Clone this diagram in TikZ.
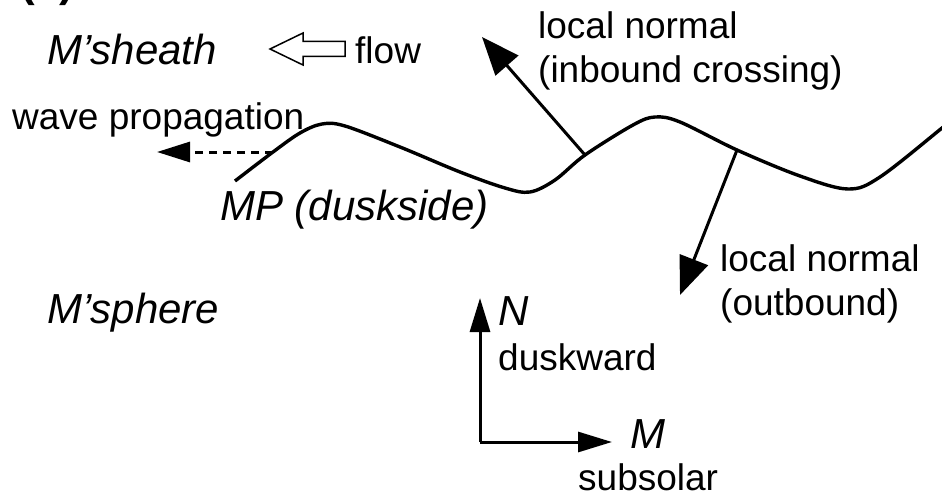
\documentclass[tikz,border=0pt]{standalone}
\usepackage{fontspec}
\setmainfont{Liberation Sans}
\usetikzlibrary{arrows.meta}
\begin{document}
\begin{tikzpicture}[x=1pt,y=-1pt,
  lbl/.style={anchor=base west, inner sep=0pt, font=\fontsize{37}{44}\selectfont},
  ilbl/.style={anchor=base west, inner sep=0pt, font=\fontsize{42}{50}\selectfont\itshape},
  normalarrow/.style={line width=3pt, -{Triangle[length=38pt,width=30pt]}},
  axisarrow/.style={line width=3pt, -{Triangle[length=34pt,width=20pt]}},
  wavearrow/.style={line width=3pt, dash pattern=on 8pt off 6pt, -{Triangle[length=33pt,width=20pt]}},
  mpline/.style={line width=3.4pt, line join=round},
  hollow/.style={line width=1.5pt, fill=white, line join=miter}
]
\useasboundingbox (0,0) rectangle (942,500);
\clip (0,0) rectangle (942,500);

% panel label (cut off at top, as in the reference)
\node[anchor=base west, inner sep=0pt, font=\fontsize{44}{50}\selectfont\bfseries] (panel) at (20,-3) {(a)};

% magnetopause curve
\draw[mpline] plot[smooth, tension=0.55] coordinates {
 (235,181) (273,152) (300,133) (322,124) (345,126) (400,147) (460,172)
 (505,188) (530,192) (555,180) (585,155) (633,125) (655,117) (680,122)
 (737,150) (800,176) (848,189) (880,177) (942,128) (965,109)};

\coordinate (wp) at (273,152);
\coordinate (wtip) at (157,152);
\coordinate (n1s) at (585,155);
\coordinate (n1e) at (482,37);
\coordinate (n2s) at (737,150);
\coordinate (n2e) at (680,295);
\coordinate (o) at (480,442);
\coordinate (ntip) at (480,298);
\coordinate (mtip) at (612,442);

% arrows
\draw[wavearrow] (wp) -- (wtip);
\draw[normalarrow] (n1s) -- (n1e);
\draw[normalarrow] (n2s) -- (n2e);
\draw[axisarrow] (o) -- (ntip);
\draw[axisarrow] (o) -- (mtip);

% hollow flow arrow
\draw[hollow] (270,49) -- (303,33) -- (303,41.5) -- (345,41.5) -- (345,56.5) -- (303,56.5) -- (303,65) -- cycle;

% labels
\node[ilbl] (msheath) at (47,65) {M’sheath};
\node[lbl] (flow) at (355,64) {flow};
\node[lbl] (wave) at (12,129) {wave propagation};
\node[lbl] (inA) at (538,39) {local normal};
\node[lbl] (inB) at (538,83) {(inbound crossing)};
\node[ilbl] (mp) at (220,220) {MP (duskside)};
\node[lbl] (outA) at (720,271) {local normal};
\node[lbl] (outB) at (720,315) {(outbound)};
\node[ilbl] (msphere) at (47,323) {M’sphere};
\node[ilbl] (N) at (498,325) {N};
\node[lbl] (dusk) at (498,370) {duskward};
\node[ilbl] (M) at (630,448) {M};
\node[lbl] (sub) at (578,490) {subsolar};
\end{tikzpicture}
\end{document}
